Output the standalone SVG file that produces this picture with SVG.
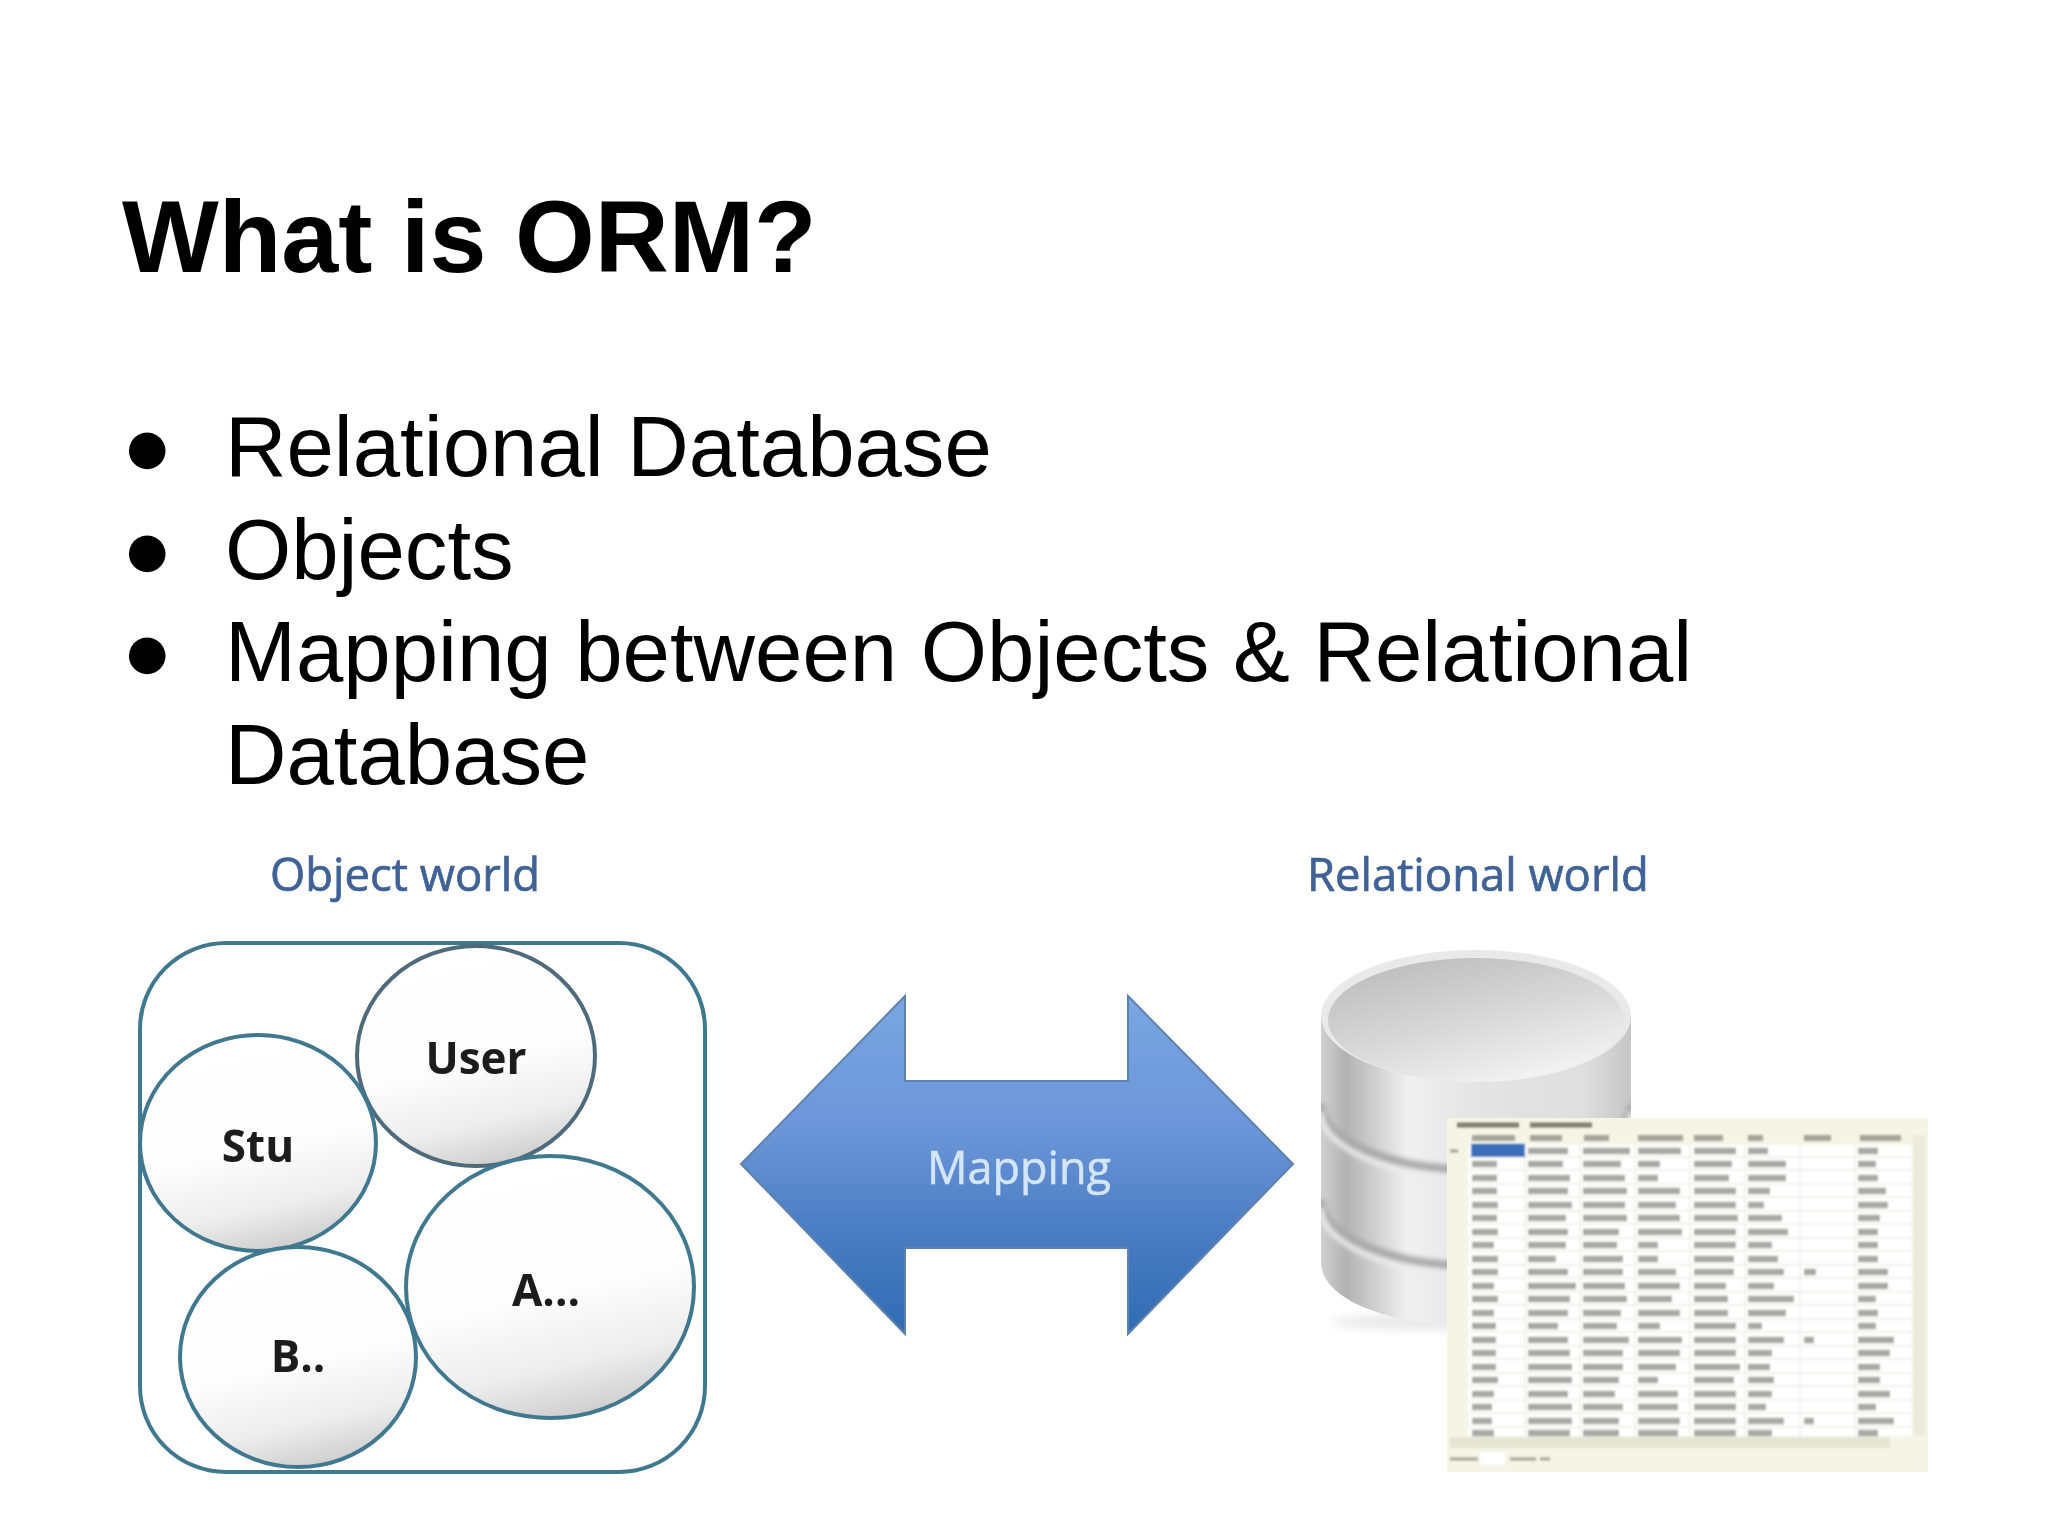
<svg xmlns="http://www.w3.org/2000/svg" width="2048" height="1536" viewBox="0 0 2048 1536">
<style>
.h{font-family:"Liberation Sans",Arial,sans-serif;fill:#000}
.b{font-size:85.15px}
.w{font-family:"Open Sans","Noto Sans",sans-serif;font-size:45.4px;fill:#3f6296;stroke:#3f6296;stroke-width:.7;filter:url(#s)}
.l{font-family:"Open Sans","Noto Sans",sans-serif;font-size:44px;font-weight:700;fill:#1c1c1c;filter:url(#s)}
.e{fill:url(#eg);stroke:#41788f;stroke-width:4;filter:url(#s)}
</style>
<defs>
<filter id="s" x="-5%" y="-5%" width="110%" height="110%"><feGaussianBlur stdDeviation="0.7"/></filter>
<filter id="t" x="-5%" y="-5%" width="110%" height="110%"><feGaussianBlur stdDeviation="1.3"/></filter>
<filter id="d" x="-10%" y="-10%" width="120%" height="120%"><feGaussianBlur stdDeviation="2.5"/></filter>
<filter id="sh" x="-10%" y="-50%" width="120%" height="200%"><feGaussianBlur stdDeviation="5"/></filter>
<linearGradient id="eg" x1="0.35" y1="0" x2="0.6" y2="1"><stop offset="0" stop-color="#fff"/><stop offset="0.55" stop-color="#fcfcfc"/><stop offset="0.8" stop-color="#ededed"/><stop offset="1" stop-color="#cdcdcd"/></linearGradient>
<linearGradient id="ag" x1="0" y1="0" x2="0" y2="1"><stop offset="0" stop-color="#7aa6e2"/><stop offset="0.4" stop-color="#6b95d8"/><stop offset="0.7" stop-color="#4a7cc2"/><stop offset="1" stop-color="#2f6cb4"/></linearGradient>
<linearGradient id="cyl" x1="0" y1="0" x2="1" y2="0"><stop offset="0" stop-color="#d0d0d0"/><stop offset="0.08" stop-color="#b2b2b2"/><stop offset="0.28" stop-color="#f0f0f0"/><stop offset="0.5" stop-color="#e4e4e4"/><stop offset="0.85" stop-color="#dedede"/><stop offset="1" stop-color="#c6c6c6"/></linearGradient>
<linearGradient id="top" x1="0.2" y1="0" x2="0.8" y2="1"><stop offset="0" stop-color="#bcbcbc"/><stop offset="0.5" stop-color="#d8d8d8"/><stop offset="1" stop-color="#f6f6f6"/></linearGradient>
<clipPath id="body"><path d="M1321 1018V1262C1321 1300 1390 1326 1476 1326S1631 1300 1631 1262V1018Z"/></clipPath>
</defs>
<rect width="2048" height="1536" fill="#fff"/>

<g id="title"><text class="h" x="122" y="272" font-size="102.5" font-weight="700">What is ORM?</text></g>
<g id="bullets">
<text class="h b" x="121.5" y="475">●</text><text class="h b" x="225" y="476">Relational Database</text>
<text class="h b" x="121.5" y="578">●</text><text class="h b" x="225" y="579">Objects</text>
<text class="h b" x="121.5" y="680">●</text><text class="h b" x="225" y="681">Mapping between Objects &amp; Relational</text>
<text class="h b" x="225" y="784">Database</text>
</g>

<g id="object-world">
<text class="w" x="270" y="891">Object world</text>
<rect x="140" y="943" width="565" height="529" rx="86" ry="86" fill="#fff" stroke="#41788f" stroke-width="4" filter="url(#s)"/>
</g>
<g id="node-user"><ellipse class="e" cx="476" cy="1056" rx="119" ry="110" style="stroke:#4f6a7a"/><text class="l" x="476" y="1074" text-anchor="middle">User</text></g>
<g id="node-stu"><ellipse class="e" cx="258" cy="1143" rx="118" ry="108"/><text class="l" x="258" y="1162" text-anchor="middle">Stu</text></g>
<g id="node-b"><ellipse class="e" cx="298" cy="1357" rx="118" ry="110"/><text class="l" x="298" y="1372" text-anchor="middle">B..</text></g>
<g id="node-a"><ellipse class="e" cx="550" cy="1287" rx="144" ry="131"/><text class="l" x="546" y="1306" text-anchor="middle">A...</text></g>

<g id="connectors">
<path d="M741 1164L905 996V1081H1128V996L1293 1164L1128 1334V1248H905V1334Z" fill="url(#ag)" stroke="#5f82ad" stroke-width="2" filter="url(#s)"/>
<text x="1019" y="1184" text-anchor="middle" font-family="Open Sans,Noto Sans,sans-serif" font-size="45" fill="#d3e6f8" stroke="#d3e6f8" stroke-width=".5" filter="url(#s)">Mapping</text>
</g>

<g id="relational-world">
<text class="w" x="1307" y="891">Relational world</text>
<g id="database">
<ellipse cx="1450" cy="1322" rx="120" ry="8" fill="#e8e8e8" filter="url(#sh)"/>
<g filter="url(#s)">
<path d="M1321 1018V1262C1321 1300 1390 1326 1476 1326S1631 1300 1631 1262V1018Z" fill="url(#cyl)"/>
<g clip-path="url(#body)" fill="none" filter="url(#d)">
<path d="M1321 1104A155 66 0 0 0 1631 1104" stroke="#a8a8a8" stroke-width="8"/>
<path d="M1321 1112A155 66 0 0 0 1631 1112" stroke="#ededed" stroke-width="5"/>
<path d="M1321 1200A155 66 0 0 0 1631 1200" stroke="#a8a8a8" stroke-width="8"/>
<path d="M1321 1208A155 66 0 0 0 1631 1208" stroke="#ededed" stroke-width="5"/>
</g>
<ellipse cx="1476" cy="1016" rx="155" ry="66" fill="#e9e9e9"/>
<ellipse cx="1476" cy="1020" rx="148" ry="62" fill="url(#top)"/>
</g>
</g>
<g id="table">
<rect x="1447" y="1118" width="481" height="354" fill="#f5f4e6"/>
<g filter="url(#t)">
<rect x="1468" y="1145" width="444" height="291" fill="#fff"/>
<path d="M1468 1157H1912M1468 1170H1912M1468 1184H1912M1468 1197H1912M1468 1211H1912M1468 1224H1912M1468 1238H1912M1468 1251H1912M1468 1265H1912M1468 1278H1912M1468 1292H1912M1468 1305H1912M1468 1319H1912M1468 1332H1912M1468 1346H1912M1468 1359H1912M1468 1373H1912M1468 1386H1912M1468 1400H1912M1468 1413H1912M1468 1427H1912" stroke="#eeeeea" stroke-width="1.5"/>
<path d="M1525 1145V1436M1580 1145V1436M1635 1145V1436M1690 1145V1436M1745 1145V1436M1800 1145V1436M1855 1145V1436" stroke="#f1f1ea" stroke-width="2"/>
<rect x="1471" y="1144" width="54" height="13" fill="#3b6fb8"/>
<rect x="1913" y="1135" width="12" height="300" fill="#ebeadb"/>
<rect x="1450" y="1437" width="440" height="11" fill="#e6e5d4"/>
<rect x="1480" y="1452" width="25" height="13" fill="#fff"/>
<path d="M1457 1125h62M1530 1125h62" stroke="#7f7f74" stroke-width="5"/>
<path d="M1472 1138h43M1530 1138h32M1584 1138h25M1638 1138h45M1694 1138h29M1748 1138h15M1804 1138h27M1860 1138h41" stroke="#a5a59a" stroke-width="6"/>
<path stroke="#a8a8a6" stroke-width="6.5" fill="none" d="
M1528 1151h40M1583 1151h47M1638 1151h43M1694 1151h42M1748 1151h20M1858 1151h20
M1472 1164h25M1528 1164h35M1583 1164h38M1638 1164h22M1694 1164h38M1748 1164h38M1858 1164h18
M1472 1178h25M1528 1178h42M1583 1178h42M1638 1178h20M1694 1178h35M1748 1178h38M1858 1178h20
M1472 1191h25M1528 1191h40M1583 1191h44M1638 1191h42M1694 1191h42M1748 1191h22M1858 1191h28
M1472 1205h26M1528 1205h44M1583 1205h42M1638 1205h38M1694 1205h42M1748 1205h16M1858 1205h30
M1472 1218h25M1528 1218h38M1583 1218h44M1638 1218h42M1694 1218h44M1748 1218h34M1858 1218h22
M1472 1232h26M1528 1232h40M1583 1232h36M1638 1232h44M1694 1232h42M1748 1232h40M1858 1232h20
M1472 1245h22M1528 1245h38M1583 1245h34M1638 1245h20M1694 1245h42M1748 1245h24M1858 1245h20
M1472 1259h26M1528 1259h28M1583 1259h40M1638 1259h20M1694 1259h40M1748 1259h30M1858 1259h20
M1472 1272h26M1528 1272h40M1583 1272h40M1638 1272h38M1694 1272h40M1748 1272h36M1804 1272h12M1858 1272h30
M1472 1286h22M1528 1286h48M1583 1286h42M1638 1286h42M1694 1286h32M1748 1286h26M1858 1286h30
M1472 1299h26M1528 1299h42M1583 1299h44M1638 1299h34M1694 1299h34M1748 1299h46M1858 1299h18
M1472 1313h22M1528 1313h40M1583 1313h38M1638 1313h42M1694 1313h34M1748 1313h38M1858 1313h20
M1472 1326h24M1528 1326h30M1583 1326h34M1638 1326h22M1694 1326h42M1748 1326h14M1858 1326h18
M1472 1340h24M1528 1340h40M1583 1340h46M1638 1340h44M1694 1340h42M1748 1340h36M1804 1340h10M1858 1340h36
M1472 1353h24M1528 1353h42M1583 1353h40M1638 1353h42M1694 1353h42M1748 1353h24M1858 1353h32
M1472 1367h24M1528 1367h44M1583 1367h40M1638 1367h38M1694 1367h46M1748 1367h22M1858 1367h22
M1472 1380h26M1528 1380h44M1583 1380h36M1638 1380h20M1694 1380h40M1748 1380h26M1858 1380h22
M1472 1394h22M1528 1394h40M1583 1394h32M1638 1394h40M1694 1394h42M1748 1394h24M1858 1394h32
M1472 1407h20M1528 1407h44M1583 1407h40M1638 1407h40M1694 1407h42M1748 1407h18M1858 1407h18
M1472 1421h20M1528 1421h44M1583 1421h36M1638 1421h42M1694 1421h42M1748 1421h36M1804 1421h10M1858 1421h36
M1472 1433h22M1528 1433h42M1583 1433h36M1638 1433h40M1694 1433h42M1748 1433h24M1858 1433h20"/>
<path d="M1450 1151h8M1450 1459h28M1510 1459h26M1540 1459h10" stroke="#a5a59a" stroke-width="3"/>
</g>
</g>
</g>
</svg>
